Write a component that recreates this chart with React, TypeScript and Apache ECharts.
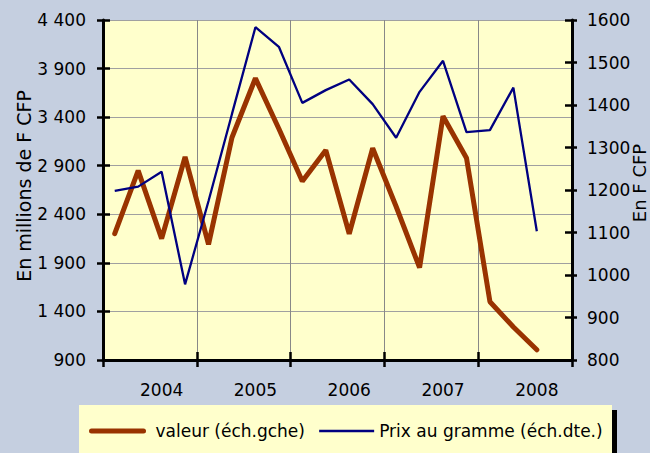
import React, { useEffect, useRef } from 'react';
import * as echarts from 'echarts';

const years = ['2004', '2005', '2006', '2007', '2008'];
const quarterNames = ['T1', 'T2', 'T3', 'T4'];
const quarters = years.flatMap((y) => quarterNames.map((q) => `${q} ${y}`));

const valeur = [2200, 2850, 2150, 2990, 2090, 3190, 3800, 3280, 2740, 3060, 2200, 3080, 2480, 1850, 3410, 2980, 1500, 1240, 1005];
const prix = [1198, 1208, 1243, 978, 1174, 1379, 1583, 1537, 1405, 1435, 1460, 1402, 1323, 1431, 1504, 1336, 1341, 1441, 1103];

const leftRange = [900, 4400, 500];
const rightRange = [800, 1600, 100];

const seriesNames = ['valeur (éch.gche)', 'Prix au gramme (éch.dte.)'];
const axisNames = ['En millions de F CFP', 'En F CFP'];

const FONT = 'DejaVu Sans';
const BROWN = '#993300';
const NAVY = '#000080';

const fmtThousands = (v: number) => String(v).replace(/\B(?=(\d{3})+(?!\d))/g, ' ');

export default function App() {
  const ref = useRef<HTMLDivElement>(null);
  useEffect(() => {
    if (!ref.current) return;
    const chart = echarts.init(ref.current, undefined, { renderer: 'svg' });
    const tickStyle = { color: '#000', width: 2.5 };
    const legendBase = {
      top: 417,
      itemHeight: 20,
      padding: 0,
      itemStyle: { opacity: 0 },
    };
    const option: any = {
      animation: false,
      backgroundColor: '#c5cfe0',
      textStyle: { fontFamily: FONT },
      grid: { left: 103, right: 78, top: 20, bottom: 93, show: true, backgroundColor: '#ffffcc', borderWidth: 0 },
      legend: [
        {
          ...legendBase,
          data: [seriesNames[0]],
          left: 89,
          itemWidth: 52,
          lineStyle: { color: BROWN, width: 5, cap: 'round' },
          textStyle: { fontFamily: FONT, fontSize: 17, color: '#000', padding: [8, 0, 0, 7], lineHeight: 20 },
        },
        {
          ...legendBase,
          data: [seriesNames[1]],
          left: 318,
          itemWidth: 55,
          lineStyle: { color: NAVY, width: 2.3 },
          textStyle: { fontFamily: FONT, fontSize: 17, color: '#000', padding: [8, 0, 0, 0], lineHeight: 20 },
        },
      ],
      graphic: [
        { type: 'rect', z: 0, shape: { x: 79, y: 405, width: 533, height: 60 }, style: { fill: '#ffffcc' } },
        { type: 'rect', z: 0, shape: { x: 612, y: 410, width: 5, height: 55 }, style: { fill: '#000' } },
        {
          type: 'text',
          x: 24,
          y: 186,
          rotation: Math.PI / 2,
          style: { text: axisNames[0], fill: '#000', font: `19px "${FONT}"`, textAlign: 'center', textVerticalAlign: 'middle', align: 'center', verticalAlign: 'middle' },
        },
        {
          type: 'text',
          x: 639,
          y: 183,
          rotation: Math.PI / 2,
          style: { text: axisNames[1], fill: '#000', font: `18px "${FONT}"`, textAlign: 'center', textVerticalAlign: 'middle', align: 'center', verticalAlign: 'middle' },
        },
      ],
      xAxis: [
        {
          type: 'category',
          data: quarters,
          boundaryGap: true,
          axisLine: { show: true, lineStyle: { color: '#000', width: 3 } },
          axisTick: { show: true, interval: 3, length: 7, lineStyle: tickStyle },
          axisLabel: {
            interval: (i: number) => i % 4 === 2,
            formatter: (v: string) => v.split(' ')[1],
            margin: 21,
            fontSize: 17,
            color: '#000',
            fontFamily: FONT,
          },
          splitLine: { show: true, interval: 3, lineStyle: { color: '#888', width: 1 } },
        },
        {
          type: 'category',
          data: quarters,
          position: 'bottom',
          boundaryGap: true,
          axisLine: { show: false },
          axisTick: { show: true, inside: true, interval: 3, length: 8, lineStyle: tickStyle },
          axisLabel: { show: false },
          splitLine: { show: false },
        },
      ],
      yAxis: [
        {
          type: 'value',
          position: 'left',
          min: leftRange[0],
          max: leftRange[1],
          interval: leftRange[2],
          axisLine: { show: true, lineStyle: { color: '#000', width: 3 } },
          axisTick: { show: true, length: 6, lineStyle: tickStyle },
          axisLabel: { formatter: fmtThousands, margin: 17, fontSize: 17, color: '#000', fontFamily: FONT },
          splitLine: { show: true, lineStyle: { color: '#a0a0a0', width: 1 } },
        },
        {
          type: 'value',
          position: 'right',
          min: rightRange[0],
          max: rightRange[1],
          interval: rightRange[2],
          axisLine: { show: true, lineStyle: { color: '#000', width: 3 } },
          axisTick: { show: true, length: 5, lineStyle: tickStyle },
          axisLabel: { formatter: (v: number) => String(v), margin: 15, fontSize: 17, color: '#000', fontFamily: FONT },
          splitLine: { show: false },
        },
        {
          type: 'value',
          position: 'left',
          min: leftRange[0],
          max: leftRange[1],
          interval: leftRange[2],
          axisLine: { show: false },
          axisTick: { show: true, inside: true, length: 7, lineStyle: tickStyle },
          axisLabel: { show: false },
          splitLine: { show: false },
        },
        {
          type: 'value',
          position: 'right',
          min: rightRange[0],
          max: rightRange[1],
          interval: rightRange[2],
          axisLine: { show: false },
          axisTick: { show: true, inside: true, length: 7, lineStyle: tickStyle },
          axisLabel: { show: false },
          splitLine: { show: false },
        },
      ],
      series: [
        {
          name: seriesNames[0],
          type: 'line',
          data: valeur,
          xAxisIndex: 0,
          yAxisIndex: 0,
          symbol: 'none',
          lineStyle: { color: BROWN, width: 5, cap: 'round' },
          itemStyle: { color: BROWN },
        },
        {
          name: seriesNames[1],
          type: 'line',
          data: prix,
          xAxisIndex: 0,
          yAxisIndex: 1,
          symbol: 'none',
          lineStyle: { color: NAVY, width: 2.3 },
          itemStyle: { color: NAVY },
        },
      ],
    };
    chart.setOption(option);
    return () => chart.dispose();
  }, []);
  return <div ref={ref} style={{ position: 'fixed', left: 0, top: 0, width: 650, height: 453 }} />;
}
